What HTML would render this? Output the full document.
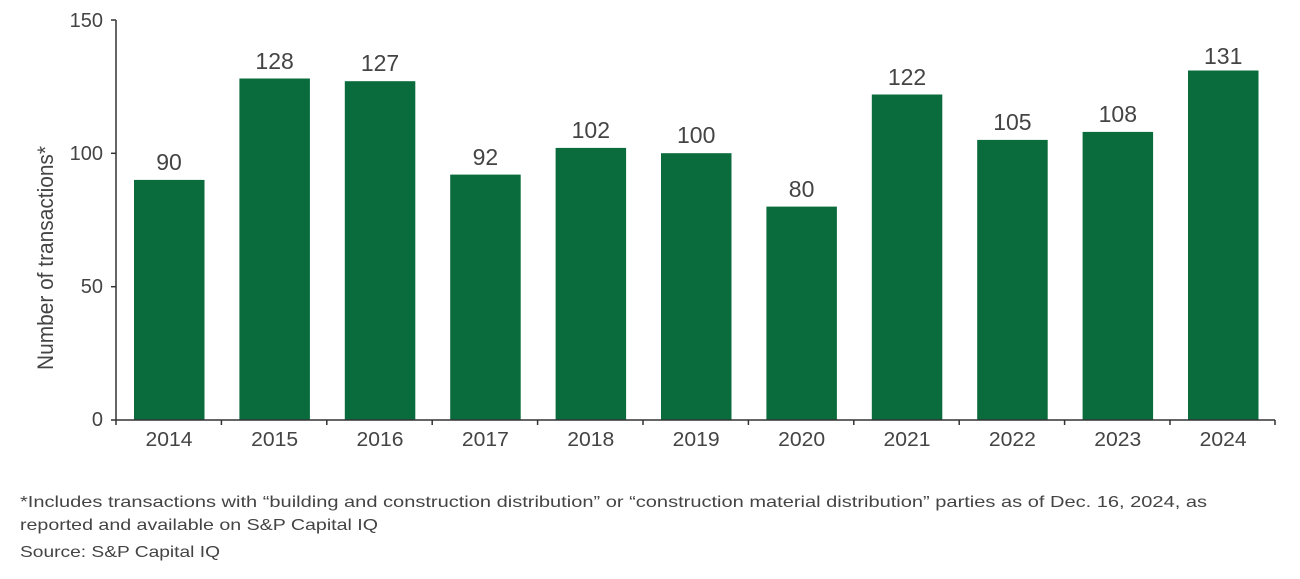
<!DOCTYPE html>
<html><head><meta charset="utf-8"><style>
html,body{margin:0;padding:0;background:#fff;}
svg{display:block;font-family:"Liberation Sans",sans-serif;}
</style></head><body>
<svg width="1300" height="579" viewBox="0 0 1300 579" xmlns="http://www.w3.org/2000/svg">
<g fill="#0a6b3c">
<rect x="134" y="179.9" width="70.5" height="240.1"/>
<rect x="239.4" y="78.5" width="70.5" height="341.5"/>
<rect x="344.8" y="81.2" width="70.5" height="338.8"/>
<rect x="450.2" y="174.6" width="70.5" height="245.4"/>
<rect x="555.6" y="147.9" width="70.5" height="272.1"/>
<rect x="661" y="153.2" width="70.5" height="266.8"/>
<rect x="766.4" y="206.6" width="70.5" height="213.4"/>
<rect x="871.8" y="94.5" width="70.5" height="325.5"/>
<rect x="977.2" y="139.9" width="70.5" height="280.1"/>
<rect x="1082.6" y="131.9" width="70.5" height="288.1"/>
<rect x="1188" y="70.5" width="70.5" height="349.5"/>
</g>
<g stroke="#333" stroke-width="1.5" fill="none">
<line x1="116" y1="20" x2="116" y2="420"/>
<line x1="116" y1="420" x2="1275" y2="420"/>
<line x1="111" y1="20" x2="116" y2="20"/>
<line x1="111" y1="153.3" x2="116" y2="153.3"/>
<line x1="111" y1="286.7" x2="116" y2="286.7"/>
<line x1="111" y1="420" x2="116" y2="420"/>
<line x1="116" y1="420" x2="116" y2="425"/>
<line x1="221.4" y1="420" x2="221.4" y2="425"/>
<line x1="326.8" y1="420" x2="326.8" y2="425"/>
<line x1="432.2" y1="420" x2="432.2" y2="425"/>
<line x1="537.6" y1="420" x2="537.6" y2="425"/>
<line x1="643" y1="420" x2="643" y2="425"/>
<line x1="748.4" y1="420" x2="748.4" y2="425"/>
<line x1="853.8" y1="420" x2="853.8" y2="425"/>
<line x1="959.2" y1="420" x2="959.2" y2="425"/>
<line x1="1064.6" y1="420" x2="1064.6" y2="425"/>
<line x1="1170" y1="420" x2="1170" y2="425"/>
<line x1="1275" y1="420" x2="1275" y2="425"/>
</g>
<g fill="#444" font-size="20" text-anchor="end">
<text x="103" y="27">150</text>
<text x="103" y="160">100</text>
<text x="103" y="293">50</text>
<text x="103" y="426">0</text>
</g>
<g fill="#444" font-size="20" text-anchor="middle">
<text x="169" y="446" textLength="47" lengthAdjust="spacingAndGlyphs">2014</text>
<text x="274.6" y="446" textLength="47" lengthAdjust="spacingAndGlyphs">2015</text>
<text x="380" y="446" textLength="47" lengthAdjust="spacingAndGlyphs">2016</text>
<text x="485.4" y="446" textLength="47" lengthAdjust="spacingAndGlyphs">2017</text>
<text x="590.8" y="446" textLength="47" lengthAdjust="spacingAndGlyphs">2018</text>
<text x="696.2" y="446" textLength="47" lengthAdjust="spacingAndGlyphs">2019</text>
<text x="801.6" y="446" textLength="47" lengthAdjust="spacingAndGlyphs">2020</text>
<text x="907" y="446" textLength="47" lengthAdjust="spacingAndGlyphs">2021</text>
<text x="1012.4" y="446" textLength="47" lengthAdjust="spacingAndGlyphs">2022</text>
<text x="1117.8" y="446" textLength="47" lengthAdjust="spacingAndGlyphs">2023</text>
<text x="1223.2" y="446" textLength="47" lengthAdjust="spacingAndGlyphs">2024</text>
</g>
<g fill="#444" font-size="23" text-anchor="middle">
<text x="169" y="170">90</text>
<text x="274.6" y="69">128</text>
<text x="380" y="71">127</text>
<text x="485.4" y="165">92</text>
<text x="590.8" y="138">102</text>
<text x="696.2" y="143">100</text>
<text x="801.6" y="197">80</text>
<text x="907" y="85">122</text>
<text x="1012.4" y="130">105</text>
<text x="1117.8" y="122">108</text>
<text x="1223.2" y="64">131</text>
</g>
<text transform="translate(53,258) rotate(-90)" fill="#444" font-size="22" text-anchor="middle" textLength="224" lengthAdjust="spacingAndGlyphs">Number of transactions*</text>
<g fill="#444" font-size="16">
<text x="20" y="507" textLength="1187" lengthAdjust="spacingAndGlyphs">*Includes transactions with “building and construction distribution” or “construction material distribution” parties as of Dec. 16, 2024, as</text>
<text x="20" y="530" textLength="358" lengthAdjust="spacingAndGlyphs">reported and available on S&amp;P Capital IQ</text>
<text x="20" y="557" textLength="200" lengthAdjust="spacingAndGlyphs">Source: S&amp;P Capital IQ</text>
</g>
</svg>
</body></html>
